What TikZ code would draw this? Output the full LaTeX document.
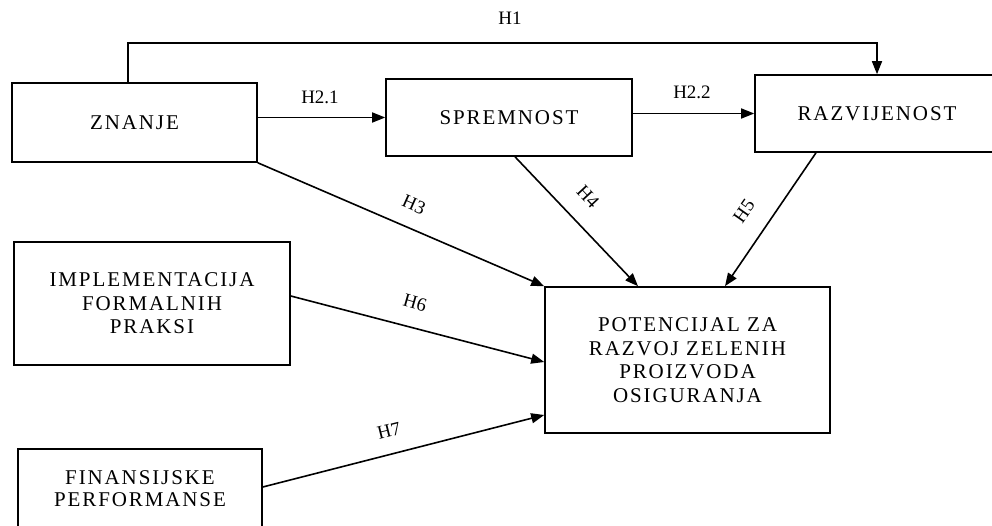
\documentclass[tikz,border=0pt]{standalone}
\usepackage{fontspec}
\setmainfont{Liberation Serif}[LetterSpace=9]
\newfontfamily\labfont{Liberation Serif}
\usetikzlibrary{arrows.meta,calc}
\begin{document}
\begin{tikzpicture}[x=1bp,y=-1bp,
  box/.style={draw, line width=1.6bp, rectangle, align=center, inner sep=0pt,
    font=\fontsize{21bp}{23.5bp}\selectfont},
  lab/.style={font=\labfont\fontsize{19bp}{20bp}\selectfont, inner sep=0pt},
  arr/.style={line width=1.6bp, -{Triangle[length=13bp,width=10bp]}}]
\useasboundingbox (0,0) rectangle (992,526);
\clip (0,0) rectangle (992,526);
% boxes
\node[box, minimum width=245bp, minimum height=79bp] (zn) at (134.5,122.5) {ZNANJE};
\node[box, minimum width=246bp, minimum height=77bp] (sp) at (509,117.5) {SPREMNOST};
\node[box, minimum width=244bp, minimum height=77bp] (raz) at (877,113.5) {RAZVIJENOST};
\node[box, minimum width=276bp, minimum height=123bp] (imp) at (152,303.5) {IMPLEMENTACIJA\\FORMALNIH\\PRAKSI};
\node[box, minimum width=244bp, minimum height=102bp, font=\fontsize{21bp}{22bp}\selectfont] (fin) at (140,500) {FINANSIJSKE\\PERFORMANSE\\\mbox{}};
\node[box, minimum width=285bp, minimum height=146bp] (pot) at (687.5,360) {POTENCIJAL ZA\\RAZVOJ ZELENIH\\PROIZVODA\\OSIGURANJA};
% H1
\coordinate (h1a) at (128,43);
\coordinate (h1b) at (877,43);
\draw[arr] (h1a |- zn.north) -- (h1a) -- (h1b) -- (h1b |- raz.north);
% H2.1, H2.2
\draw[arr] (zn.east |- sp.west) -- (sp.west);
\draw[arr] (sp.east |- raz.west) -- (raz.west);
% H3..H7
\draw[arr] (zn.south east) -- (pot.north west);
\draw[arr] (515,0 |- sp.south) -- (638,0 |- pot.north);
\draw[arr] (816,0 |- raz.south) -- (725,0 |- pot.north);
\draw[arr] (imp.east |- 0,296) -- (pot.west |- 0,362);
\draw[arr] (fin.east |- 0,487) -- (pot.west |- 0,415);
% labels
\node[lab] (l1) at (510,18) {H1};
\node[lab] (l21) at (320,97) {H2.1};
\node[lab] (l22) at (692,92) {H2.2};
\node[lab, rotate=-24] (l3) at (414,205) {H3};
\node[lab, rotate=-47] (l4) at (588,197) {H4};
\node[lab, rotate=55] (l5) at (744,211) {H5};
\node[lab, rotate=-16] (l6) at (415,303) {H6};
\node[lab, rotate=14] (l7) at (389,431) {H7};
\end{tikzpicture}
\end{document}
